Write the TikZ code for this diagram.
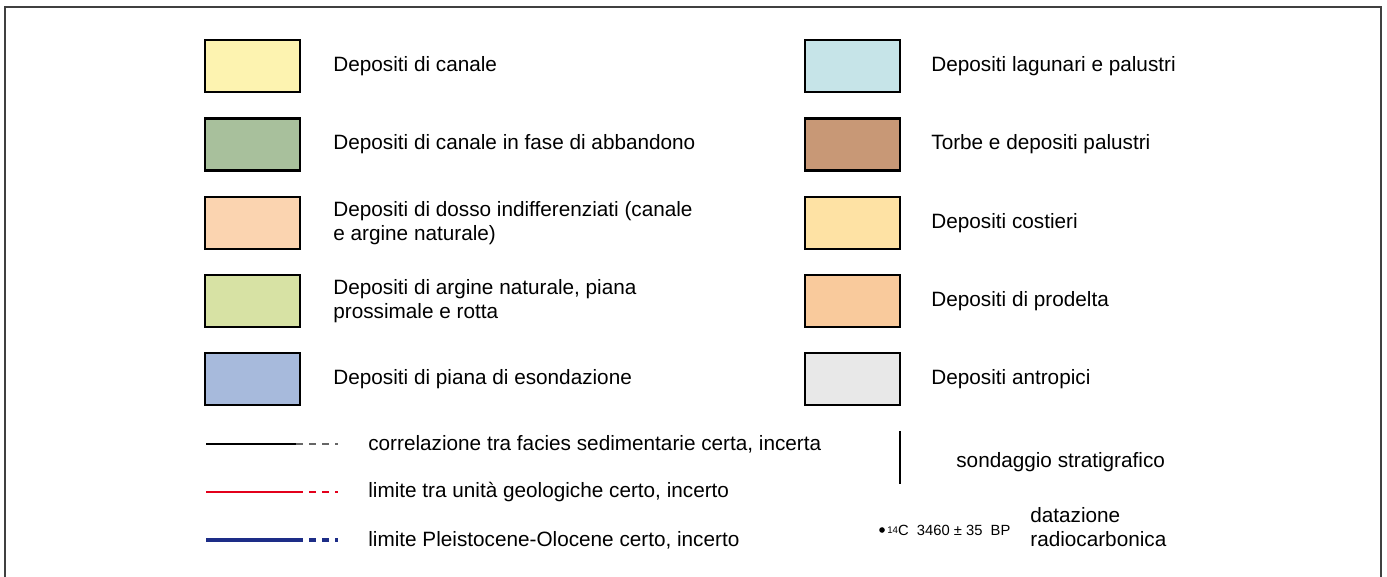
\documentclass[tikz,border=0pt]{standalone}
\usepackage{fontspec}
\setmainfont{Liberation Sans}
\usepackage{tikz}
\usetikzlibrary{calc,positioning}

\definecolor{canale}{RGB}{253,243,176}
\definecolor{abbandono}{RGB}{168,192,156}
\definecolor{dosso}{RGB}{251,212,176}
\definecolor{argine}{RGB}{215,226,164}
\definecolor{esondazione}{RGB}{167,186,220}
\definecolor{lagunari}{RGB}{198,228,232}
\definecolor{torbe}{RGB}{200,152,118}
\definecolor{costieri}{RGB}{254,226,164}
\definecolor{prodelta}{RGB}{249,202,156}
\definecolor{antropici}{RGB}{232,232,232}
\definecolor{limrosso}{RGB}{227,0,27}
\definecolor{limblu}{RGB}{29,45,135}

\begin{document}
\begin{tikzpicture}[x=0.02cm,y=-0.02cm,
    facies/.style={draw=black,line width=1.2pt,minimum width=1.9cm,minimum height=1.04cm,inner sep=0pt},
    legtext/.style={inner sep=0pt,align=left,font=\fontsize{11.8}{13.6}\selectfont},
    dashpart/.style={dash pattern=on 4pt off 3.4pt}]
    \useasboundingbox (0,0) rectangle (1387,577);
    \draw[line width=1.1pt,black!75] (5,590) -- (5,7) -- (1381,7) -- (1381,590);
    % colonna sinistra
    \node[facies,fill=canale] (bcanale) at (252.5,66) {};
    \node[legtext,right=0.64cm of bcanale] (tcanale) {Depositi di canale};
    \node[facies,fill=abbandono] (babbandono) at (252.5,144.5) {};
    \node[legtext,right=0.64cm of babbandono] (tabbandono) {Depositi di canale in fase di abbandono};
    \node[facies,fill=dosso] (bdosso) at (252.5,223) {};
    \node[legtext,right=0.64cm of bdosso] (tdosso) {Depositi di dosso indifferenziati (canale\\e argine naturale)};
    \node[facies,fill=argine] (bargine) at (252.5,301) {};
    \node[legtext,right=0.64cm of bargine] (targine) {Depositi di argine naturale, piana\\prossimale e rotta};
    \node[facies,fill=esondazione] (besondazione) at (252.5,379) {};
    \node[legtext,right=0.64cm of besondazione] (tesondazione) {Depositi di piana di esondazione};
    % colonna destra
    \node[facies,fill=lagunari] (blagunari) at (852.5,66) {};
    \node[legtext,right=0.6cm of blagunari] (tlagunari) {Depositi lagunari e palustri};
    \node[facies,fill=torbe] (btorbe) at (852.5,144.5) {};
    \node[legtext,right=0.6cm of btorbe] (ttorbe) {Torbe e depositi palustri};
    \node[facies,fill=costieri] (bcostieri) at (852.5,223) {};
    \node[legtext,right=0.6cm of bcostieri] (tcostieri) {Depositi costieri};
    \node[facies,fill=prodelta] (bprodelta) at (852.5,301) {};
    \node[legtext,right=0.6cm of bprodelta] (tprodelta) {Depositi di prodelta};
    \node[facies,fill=antropici] (bantropici) at (852.5,379) {};
    \node[legtext,right=0.6cm of bantropici] (tantropici) {Depositi antropici};
    % linee
    \coordinate (corr0) at (206,444); \coordinate (corr1) at (296,444); \coordinate (corr2) at (338,444);
    \draw[line width=1.2pt,black] (corr0) -- (corr1);
    \draw[line width=0.7pt,black!60,dashpart] (corr1) -- (corr2);
    \node[legtext,anchor=west] (tcorr) at (368,444) {correlazione tra facies sedimentarie certa, incerta};
    \coordinate (lim0) at (206,492); \coordinate (lim1) at (296,492); \coordinate (lim2) at (338,492);
    \draw[line width=1pt,limrosso] (lim0) -- (lim1);
    \draw[line width=1pt,limrosso,dashpart] (lim1) -- (lim2);
    \node[legtext,anchor=west] (tlim) at (368,492) {limite tra unità geologiche certo, incerto};
    \coordinate (plo0) at (206,540); \coordinate (plo1) at (296,540); \coordinate (plo2) at (338,540);
    \draw[line width=2.3pt,limblu] (plo0) -- (plo1);
    \draw[line width=2.3pt,limblu,dashpart] (plo1) -- (plo2);
    \node[legtext,anchor=west] (tplo) at (368,540) {limite Pleistocene-Olocene certo, incerto};
    % sondaggio e datazione
    \coordinate (sond0) at (900,431); \coordinate (sond1) at (900,484);
    \draw[line width=1.1pt] (sond0) -- (sond1);
    \node[legtext,anchor=west] (tsond) at (956,462) {sondaggio stratigrafico};
    \fill (882,530) circle (1.6pt) coordinate (dot);
    \node[inner sep=0pt,anchor=west,font=\fontsize{8.4}{9}\selectfont] (c14) at (887,530) {{\fontsize{5.5}{6}\selectfont\raisebox{0.35ex}{14}}C\ \ 3460 ± 35\ \ BP};
    \node[legtext,anchor=west] (tdat) at (1030,527) {datazione\\radiocarbonica};
\end{tikzpicture}
\end{document}
